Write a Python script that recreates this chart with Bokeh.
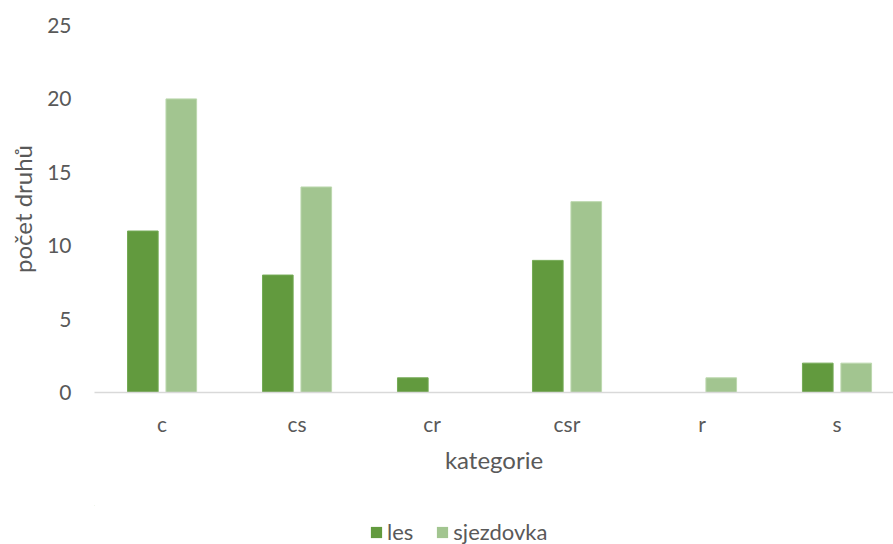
from bokeh.plotting import figure
from bokeh.layouts import column
from bokeh.models import ColumnDataSource, Range1d, FixedTicker, Legend, LegendItem
from bokeh.transform import dodge
from bokeh.embed import file_html
from bokeh.resources import INLINE

categories = ["c", "cs", "cr", "csr", "r", "s"]
les = [11, 8, 1, 9, 0, 2]
sjezdovka = [20, 14, 0, 13, 1, 2]
y_ticks = [0, 5, 10, 15, 20, 25]
series_names = ["les", "sjezdovka"]
series_colors = ["#629a3e", "#a2c590"]
series_edges = ["#74aa55", "#bcd8ae"]

positions = [i + 0.5 for i in range(len(categories))]
src = ColumnDataSource(dict(x=positions, cat=categories, les=les, sjezdovka=sjezdovka))

FONT = "Lato"
TXT = "#595959"

p = figure(width=893, height=505, output_backend="svg", toolbar_location=None,
           x_range=Range1d(0, 5.919), y_range=Range1d(0, 25),
           min_border_left=94, min_border_right=0, min_border_top=25, min_border_bottom=113)
p.outline_line_color = None
p.xgrid.visible = False
p.ygrid.visible = False

p.vbar(x=dodge("x", -0.142, range=p.x_range), top="les", width=0.227, source=src,
       fill_color=series_colors[0], line_color=series_edges[0], line_width=1)
p.vbar(x=dodge("x", 0.143, range=p.x_range), top="sjezdovka", width=0.227, source=src,
       fill_color=series_colors[1], line_color=series_edges[1], line_width=1)

p.xaxis.ticker = FixedTicker(ticks=positions)
p.xaxis.major_label_overrides = {pos: c for pos, c in zip(positions, categories)}
p.yaxis.ticker = FixedTicker(ticks=y_ticks)

p.xaxis.axis_label = "kategorie"
p.yaxis.axis_label = "počet druhů"

for ax in (p.xaxis[0], p.yaxis[0]):
    ax.major_tick_line_color = None
    ax.minor_tick_line_color = None
    ax.major_label_text_font = FONT
    ax.major_label_text_font_size = "21px"
    ax.major_label_text_color = TXT
    ax.axis_label_text_font = FONT
    ax.axis_label_text_font_size = "24px"
    ax.axis_label_text_font_style = "normal"
    ax.axis_label_text_color = TXT

p.xaxis.axis_line_color = "#d9d9d9"
p.xaxis.axis_line_width = 1.5
p.xaxis.major_label_standoff = 12
p.xaxis.axis_label_standoff = 6
p.yaxis.axis_line_color = None
p.yaxis.major_label_standoff = 17
p.yaxis.axis_label_standoff = 7

# legend strip below the chart (its sample bars lie outside its visible range)
pl = figure(width=893, height=39, output_backend="svg", toolbar_location=None,
            x_range=Range1d(0, 1), y_range=Range1d(0, 1),
            x_axis_location=None, y_axis_location=None,
            min_border_left=0, min_border_right=0, min_border_top=0, min_border_bottom=0)
pl.outline_line_color = None
pl.xgrid.visible = False
pl.ygrid.visible = False
items = []
for name, col in zip(series_names, series_colors):
    rr = pl.vbar(x=[-10], bottom=[5], top=[6], width=0.001,
                 fill_color=col, line_color=None)
    items.append(LegendItem(label=name, renderers=[rr]))

legend = Legend(items=items, orientation="horizontal", location=(275, -1),
                glyph_width=14, glyph_height=14, label_standoff=4, spacing=22,
                padding=0, margin=0, border_line_alpha=0, background_fill_alpha=0,
                label_text_font=FONT, label_text_font_size="22px", label_text_color=TXT)
pl.add_layout(legend, "center")

layout = column(p, pl, spacing=0)
open("out.html", "w").write(file_html(layout, INLINE))
